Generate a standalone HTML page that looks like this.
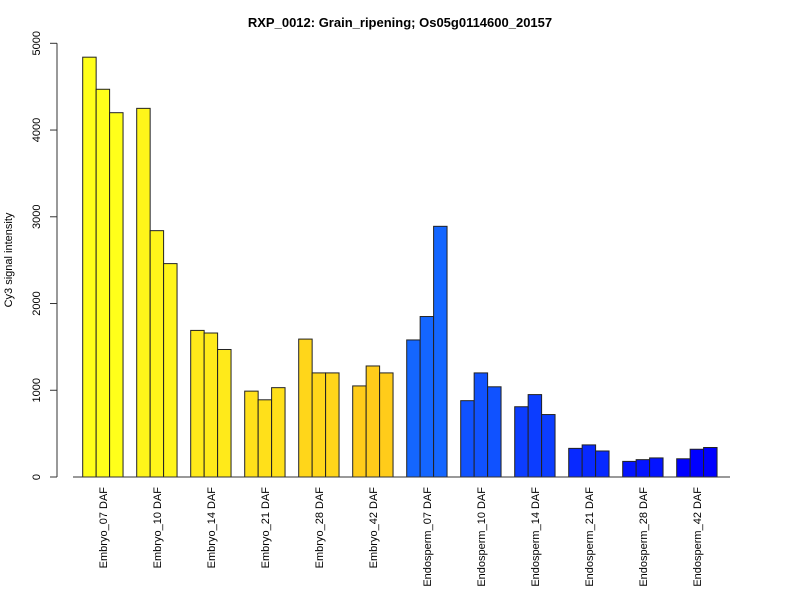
<!DOCTYPE html>
<html><head><meta charset="utf-8"><style>
body{margin:0;background:#fff}
svg{display:block;font-family:"Liberation Sans",Arial,sans-serif}
</style></head><body>
<svg id="chart" width="800" height="600">
<text x="400" y="27" text-anchor="middle" font-size="13" font-weight="bold">RXP_0012: Grain_ripening; Os05g0114600_20157</text>
<text transform="translate(12,260) rotate(-90)" text-anchor="middle" font-size="11">Cy3 signal intensity</text>
<g id="yaxis"></g>
<g id="bars"></g>
<g id="xlabels"></g>
<line x1="73" y1="477" x2="730" y2="477" stroke="#333"/>
</svg>
<script>
const categories = ["Embryo_07 DAF","Embryo_10 DAF","Embryo_14 DAF","Embryo_21 DAF","Embryo_28 DAF","Embryo_42 DAF","Endosperm_07 DAF","Endosperm_10 DAF","Endosperm_14 DAF","Endosperm_21 DAF","Endosperm_28 DAF","Endosperm_42 DAF"];
const rep1 = [4840,4250,1690,990,1590,1050,1580,880,810,330,180,210];
const rep2 = [4470,2840,1660,890,1200,1280,1850,1200,950,370,200,320];
const rep3 = [4200,2460,1470,1030,1200,1200,2890,1040,720,300,220,340];
const colors = ["#ffff1a","#fff51a","#ffea1a","#ffe01a","#ffd61a","#ffcc1a","#1466ff","#1052ff","#0c3dff","#0829ff","#0414ff","#0000ff"];
const yTicks = [0,1000,2000,3000,4000,5000];
const NS="http://www.w3.org/2000/svg";
const y0=477, y1=43.3, vmax=5000;
const yScale=v=>y0-(v/vmax)*(y0-y1);
const x0=82.7, period=54, bw=13.45;
const xScale=(g,r)=>x0+g*period+r*bw;
const ya=document.getElementById('yaxis');
function mk(tag,attrs,parent){const e=document.createElementNS(NS,tag);for(const k in attrs)e.setAttribute(k,attrs[k]);parent.appendChild(e);return e;}
const al=mk('line',{x1:57,x2:57,y1:yScale(0),y2:yScale(5000),stroke:'#333'},ya);


yTicks.forEach(t=>{
  const l=mk('line',{x1:50,x2:57,y1:yScale(t),y2:yScale(t),stroke:'#333'},ya);
  
  
  const tx=mk('text',{transform:`translate(40,${yScale(t)}) rotate(-90)`,'text-anchor':'middle','font-size':'11'},ya);
  tx.textContent=t;
  
  
});
const bg=document.getElementById('bars');
const reps=[rep1,rep2,rep3];
categories.forEach((c,g)=>{
  reps.forEach((arr,r)=>{
    const v=arr[g];
    const b=mk('rect',{x:xScale(g,r),y:yScale(v),width:bw,height:yScale(0)-yScale(v),fill:colors[g],stroke:'#222','stroke-width':1},bg);
    
    
  });
  const cx=xScale(g,1.5);
  const tx=mk('text',{transform:`translate(${cx+4},487) rotate(-90)`,'text-anchor':'end','font-size':'11'},document.getElementById('xlabels'));
  tx.textContent=c;
  
  
});
</script>
</body></html>
